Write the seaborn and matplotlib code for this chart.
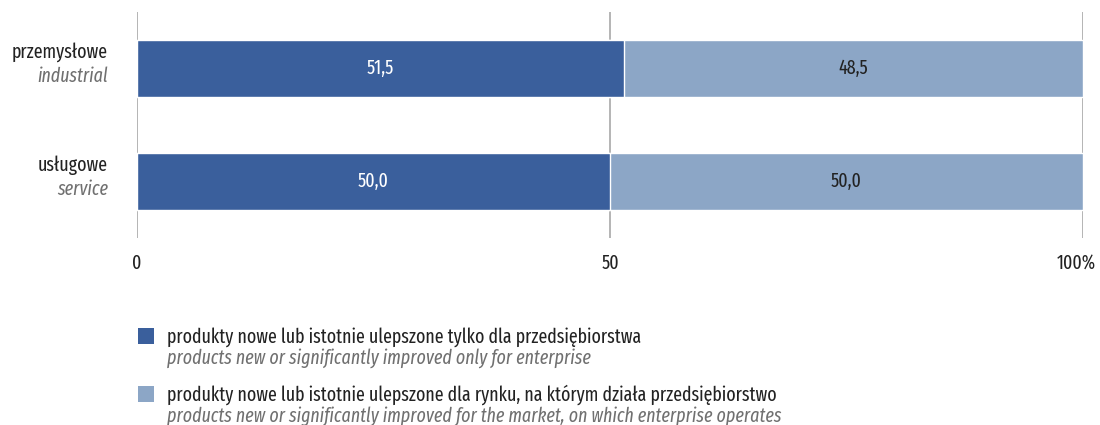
import matplotlib
matplotlib.use("Agg")
import matplotlib.pyplot as plt
import matplotlib.transforms as mtransforms
from matplotlib.patches import Rectangle
import pandas as pd
import seaborn as sns

categories = ["przemysłowe", "usługowe"]
categories_en = ["industrial", "service"]
only_enterprise = [51.5, 50.0]
for_market = [48.5, 50.0]
x_ticks = [0, 50, 100]
x_tick_labels = ["0", "50", "100%"]
legend_pl = ["produkty nowe lub istotnie ulepszone tylko dla przedsiębiorstwa",
             "produkty nowe lub istotnie ulepszone dla rynku, na którym działa przedsiębiorstwo"]
legend_en = ["products new or significantly improved only for enterprise",
             "products new or significantly improved for the market, on which enterprise operates"]

DARK = "#3A5F9C"
LIGHT = "#8CA6C6"
GREY_TXT = "#707070"
INK = "#222222"
FS = 14

sns.set_theme(style="white")
plt.rcParams["font.family"] = ["Fira Sans Extra Condensed", "DejaVu Sans"]

df = pd.DataFrame({"cat": categories, "a": only_enterprise, "b": for_market})
df["total"] = df["a"] + df["b"]

fig = plt.figure(figsize=(11, 4.25), dpi=100)
# axes spans x 137..1083 px, y 12..238 px
ax = fig.add_axes([137 / 1100, 1 - 238 / 425, 946 / 1100, 226 / 425])

for xv in x_ticks:
    ax.axvline(xv, color="#A8A8A8", lw=1.2, zorder=0)

# stacked bars: full total in light colour, first part in dark on top
sns.barplot(data=df, y="cat", x="total", orient="h", color=LIGHT, width=0.5,
            saturation=1, ax=ax, zorder=2)
sns.barplot(data=df, y="cat", x="a", orient="h", color=DARK, width=0.5,
            saturation=1, ax=ax, zorder=3)

light_bars = ax.patches[:len(df)]
dark_bars = ax.patches[len(df):]

for p, v in zip(dark_bars, only_enterprise):
    ax.text(p.get_x() + p.get_width() / 2, p.get_y() + p.get_height() / 2,
            f"{v:.1f}".replace(".", ","), ha="center", va="center",
            color="white", fontsize=FS, zorder=4)
for p, d, v in zip(light_bars, dark_bars, for_market):
    xs = d.get_x() + d.get_width()
    ax.text(xs + v / 2, p.get_y() + p.get_height() / 2,
            f"{v:.1f}".replace(".", ","), ha="center", va="center",
            color=INK, fontsize=FS, zorder=4)

ax.set_xlim(0, 100)
ax.set_ylim(1.5, -0.5)
ax.set_xticks(x_ticks)
ax.set_xticklabels(x_tick_labels, fontsize=FS, color=INK)
ax.tick_params(axis="x", length=0, pad=11)
# nudge "100%" left so it stays inside the figure
last = ax.get_xticklabels()[-1]
last.set_transform(last.get_transform() + mtransforms.ScaledTranslation(-0.07, 0, fig.dpi_scale_trans))
ax.set_yticks([])
ax.set_xlabel("")
ax.set_ylabel("")
for s in ax.spines.values():
    s.set_visible(False)

trans = mtransforms.blended_transform_factory(fig.transFigure, ax.transData)
for i, (pl, en) in enumerate(zip(categories, categories_en)):
    ax.text(108 / 1100, i - 0.145, pl, transform=trans, ha="right", va="center",
            fontsize=FS, color=INK)
    ax.text(108 / 1100, i + 0.065, en, transform=trans, ha="right", va="center",
            fontsize=FS, color=GREY_TXT, style="italic")

legend_colors = [DARK, LIGHT]
sq_top = [328, 386]
for c, top, pl, en in zip(legend_colors, sq_top, legend_pl, legend_en):
    fig.patches.append(Rectangle((138 / 1100, 1 - (top + 16) / 425), 16 / 1100, 16 / 425,
                                 transform=fig.transFigure, facecolor=c, edgecolor="none"))
    fig.text(167 / 1100, 1 - (top + 9) / 425, pl, ha="left", va="center",
             fontsize=FS, color=INK)
    fig.text(167 / 1100, 1 - (top + 30) / 425, en, ha="left", va="center",
             fontsize=FS, color=GREY_TXT, style="italic")

fig.savefig("out.png", dpi=100)
